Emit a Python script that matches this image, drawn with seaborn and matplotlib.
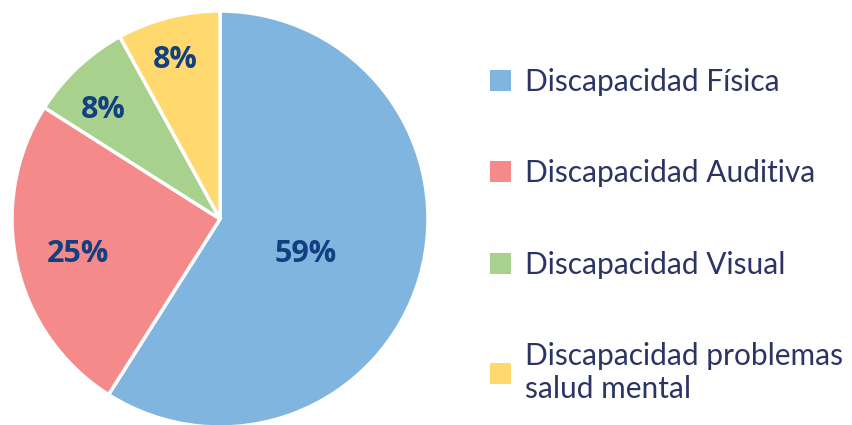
import numpy as np
import seaborn as sns
import matplotlib.pyplot as plt

# data
categories = ["Discapacidad Física", "Discapacidad Auditiva",
              "Discapacidad Visual", "Discapacidad problemas\nsalud mental"]
values = [59, 25, 8, 8]
labels = ["59%", "25%", "8%", "8%"]
colors = ["#80b5df", "#f58a8a", "#a9d18e", "#ffd96e"]

sns.set_theme(style="white")
plt.rcParams['font.family'] = ['Lato', 'DejaVu Sans']

fig = plt.figure(figsize=(8.52, 4.25), dpi=100)
W, H = 852, 425
cx, cy, r = 220, 219, 208
ax = fig.add_axes([(cx - r) / W, (H - cy - r) / H, 2 * r / W, 2 * r / H])

wedges, _ = ax.pie(values, colors=colors, startangle=90, counterclock=False,
                   radius=1, wedgeprops=dict(edgecolor="white", linewidth=2.5))
ax.set_xlim(-1, 1)
ax.set_ylim(-1, 1)
ax.set_aspect("equal")
ax.axis("off")

# percent labels, each at its own distance / angle shift from the slice middle
label_r = [0.44, 0.70, 0.78, 0.81]
label_shift = [-4, 0, 3, 1]
for w, txt, d, s in zip(wedges, labels, label_r, label_shift):
    ang = np.deg2rad((w.theta1 + w.theta2) / 2 + s)
    ax.text(d * np.cos(ang), d * np.sin(ang), txt, ha="center",
            va="center_baseline", fontsize=22, fontweight="bold",
            family=["Open Sans", "DejaVu Sans"], color="#123f80")

leg = fig.legend(wedges, categories, loc="upper left",
                 bbox_to_anchor=(490 / W, 1 - 68 / H), frameon=False,
                 borderpad=0, borderaxespad=0,
                 fontsize=21.5, labelcolor="#2b3463",
                 handlelength=0.7, handleheight=0.7, handletextpad=0.48,
                 labelspacing=2.12)
for h in leg.legend_handles:
    h.set_edgecolor("none")

fig.savefig("out.png", dpi=100)
